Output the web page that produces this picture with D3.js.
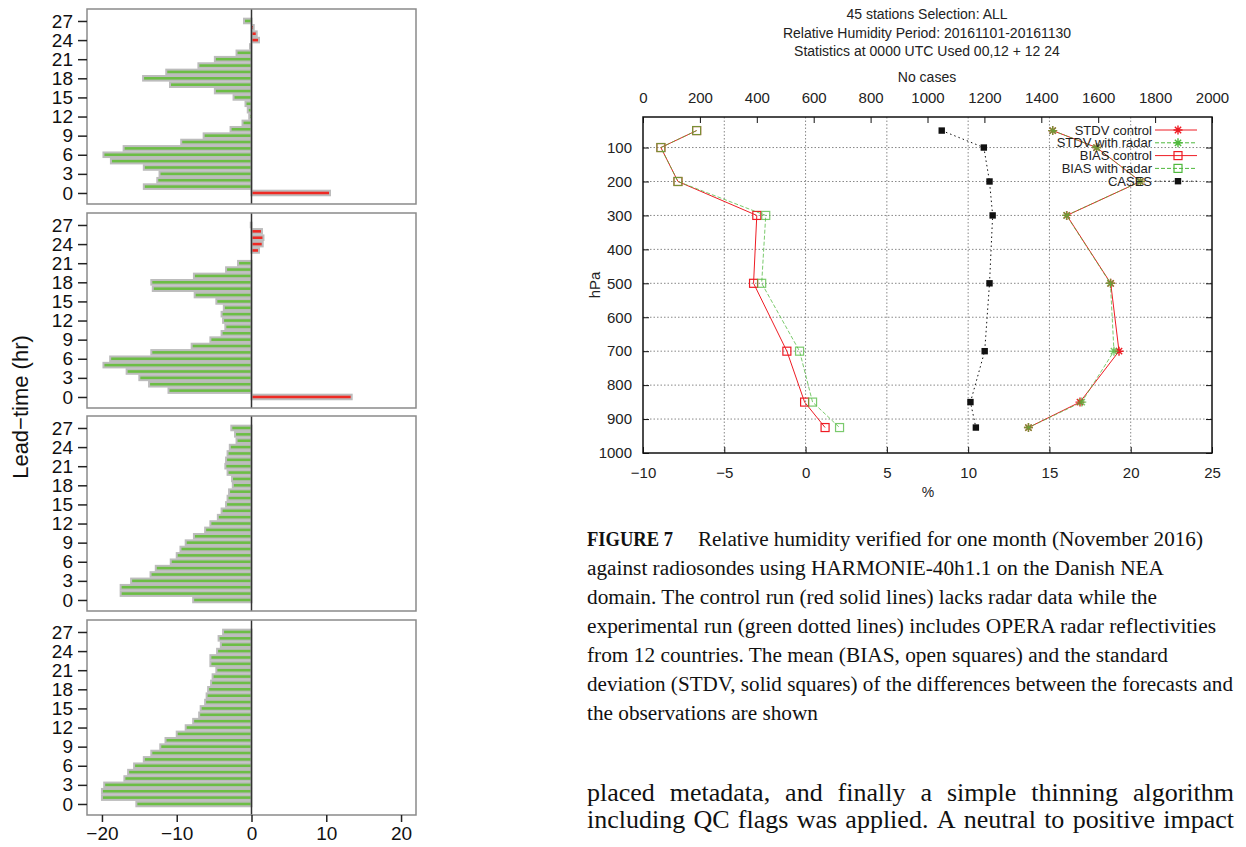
<!DOCTYPE html>
<html>
<head>
<meta charset="utf-8">
<script src="https://cdn.jsdelivr.net/npm/d3@7"></script>
<style>
  body { margin: 0; background: #fff; }
  svg { display: block; }
</style>
</head>
<body>
<svg id="chart" width="1246" height="847"></svg>
<script>
// ---- data: left bar panels (lead time 0..27) ----
const leadTimes = [0, 1, 2, 3, 4, 5, 6, 7, 8, 9, 10, 11, 12, 13, 14, 15, 16, 17, 18, 19, 20, 21, 22, 23, 24, 25, 26, 27];
const leadTicks = [0, 3, 6, 9, 12, 15, 18, 21, 24, 27];
const diffTicks = [-20, -10, 0, 10, 20];

const panel1 = [10.5, -14.4, -12.6, -12.3, -14.4, -18.8, -19.8, -17.1, -9.4, -6.4, -2.8, -1.2, -0.3, -0.5,
                -0.8, -2.4, -4.9, -10.9, -14.5, -11.4, -7.1, -4.9, -2.0, -0.2, 1.0, 0.7, 0.3, -1.0];
const panel2 = [13.4, -11.1, -13.7, -15.0, -16.7, -19.8, -18.9, -13.4, -8.0, -5.5, -4.0, -3.5, -3.8, -4.0,
                -3.7, -4.7, -7.6, -13.2, -13.4, -7.7, -3.4, -1.8, 0, 1.0, 1.5, 1.6, 1.4, -0.1];
const panel3 = [-7.8, -17.5, -17.5, -16.1, -13.5, -12.8, -10.8, -10.0, -9.5, -8.8, -7.7, -6.2, -5.5, -4.5,
                -4.0, -3.4, -3.2, -3.0, -2.5, -2.6, -3.2, -3.5, -3.4, -3.2, -2.9, -2.0, -2.2, -2.7];
const panel4 = [-15.4, -20.0, -20.0, -19.7, -17.0, -16.5, -15.7, -14.4, -13.4, -12.2, -11.5, -10.0, -8.8, -7.8,
                -7.0, -6.8, -6.2, -6.0, -5.8, -5.4, -5.2, -4.7, -5.5, -5.5, -4.6, -4.1, -4.4, -3.8];
const panels = [panel1, panel2, panel3, panel4];

// ---- data: right profile chart ----
const pressure = [50, 100, 200, 300, 500, 700, 850, 925];
const biasControl = [-6.7, -8.9, -7.85, -3.0, -3.2, -1.15, -0.06, 1.2];
const biasRadar = [-6.7, -8.9, -7.85, -2.45, -2.7, -0.37, 0.43, 2.09];
const stdvControl = [15.2, 17.9, 20.6, 16.07, 18.77, 19.28, 16.88, 13.71];
const stdvRadar = [15.2, 17.9, 20.6, 16.05, 18.75, 18.97, 16.99, 13.71];
const cases = [1050, 1198, 1218, 1229, 1218, 1201, 1151, 1170];
const pctTicks = [-10, -5, 0, 5, 10, 15, 20, 25];
const caseTicks = [0, 200, 400, 600, 800, 1000, 1200, 1400, 1600, 1800, 2000];
const hpaTicks = [100, 200, 300, 400, 500, 600, 700, 800, 900, 1000];
const titleLines = ["45 stations Selection: ALL",
                    "Relative Humidity Period: 20161101-20161130",
                    "Statistics at 0000 UTC Used 00,12 + 12 24"];

const captionHead = "FIGURE 7";
const captionLines = [
  "Relative humidity verified for one month (November 2016)",
  "against radiosondes using HARMONIE-40h1.1 on the Danish NEA",
  "domain. The control run (red solid lines) lacks radar data while the",
  "experimental run (green dotted lines) includes OPERA radar reflectivities",
  "from 12 countries. The mean (BIAS, open squares) and the standard",
  "deviation (STDV, solid squares) of the differences between the forecasts and",
  "the observations are shown"
];
const bodyLines = [
  "placed metadata, and finally a simple thinning algorithm",
  "including QC flags was applied. A neutral to positive impact"
];

const svg = d3.select("#chart");
svg.append("rect").attr("width", 1246).attr("height", 847).attr("fill", "#fff");

const sans = "Liberation Sans, Arial, Helvetica, sans-serif";
const serif = "Liberation Serif, Times New Roman, serif";

// ================= left: four bar panels =================
const panelTops = [9, 213, 416, 620];
const panelH = 195;
const x = d3.scaleLinear().domain([-22, 22]).range([87, 416]);

panels.forEach((vals, i) => {
  const top = panelTops[i];
  const y = d3.scaleLinear().domain([-1.73, 28.88]).range([top + panelH, top]);
  const g = svg.append("g");
  const bh = 0.72 * (y(0) - y(1));

  g.selectAll("rect.bar")
    .data(leadTimes)
    .join("rect")
    .attr("class", "bar")
    .attr("x", d => x(Math.min(0, vals[d])))
    .attr("width", d => Math.abs(x(vals[d]) - x(0)))
    .attr("y", d => y(d) - bh / 2)
    .attr("height", bh)
    .attr("fill", d => vals[d] > 0 ? "#ee2a24" : "#6cbd45")
    .attr("stroke", "#bcbcbc")
    .attr("stroke-width", 2);

  // zero line
  g.append("line")
    .attr("x1", x(0)).attr("x2", x(0))
    .attr("y1", top).attr("y2", top + panelH)
    .attr("stroke", "#333").attr("stroke-width", 1.5);

  // frame
  g.append("rect")
    .attr("x", 87).attr("y", top)
    .attr("width", 416 - 87).attr("height", panelH)
    .attr("fill", "none").attr("stroke", "#8a8a8a").attr("stroke-width", 1.5);

  // y axis
  const ya = g.append("g")
    .attr("transform", "translate(87,0)")
    .call(d3.axisLeft(y).tickValues(leadTicks).tickSize(9).tickPadding(5));
  ya.select(".domain").remove();
  ya.selectAll(".tick line").attr("stroke", "#222").attr("stroke-width", 1.5);
  ya.selectAll(".tick text").attr("font-family", sans).attr("font-size", 19).attr("fill", "#111");

  if (i === 3) {
    const xa = g.append("g")
      .attr("transform", `translate(0,${top + panelH})`)
      .call(d3.axisBottom(x).tickValues(diffTicks).tickSize(7).tickPadding(5)
        .tickFormat(d => d < 0 ? "\u2212" + Math.abs(d) : d));
    xa.select(".domain").remove();
    xa.selectAll(".tick line").attr("stroke", "#222").attr("stroke-width", 1.5);
    xa.selectAll(".tick text").attr("font-family", sans).attr("font-size", 19).attr("fill", "#111");
  }
});

svg.append("text")
  .attr("transform", "translate(28,407) rotate(-90)")
  .attr("text-anchor", "middle")
  .attr("font-family", sans)
  .attr("font-size", 22)
  .attr("fill", "#111")
  .text("Lead\u2212time (hr)");

// ================= right: profile chart =================
const px = d3.scaleLinear().domain([-10, 25]).range([643, 1212]);
const px2 = d3.scaleLinear().domain([0, 2000]).range([643, 1212]);
const py = d3.scaleLinear().domain([10, 1000]).range([117, 453]);
const rg = svg.append("g");

// grid
rg.selectAll("line.vgrid")
  .data(pctTicks.slice(1, -1))
  .join("line")
  .attr("x1", d => px(d)).attr("x2", d => px(d))
  .attr("y1", 117).attr("y2", 453)
  .attr("stroke", "#888").attr("stroke-width", 1).attr("stroke-dasharray", "1.5,2");
rg.selectAll("line.hgrid")
  .data(hpaTicks.slice(0, -1))
  .join("line")
  .attr("x1", 643).attr("x2", 1212)
  .attr("y1", d => py(d)).attr("y2", d => py(d))
  .attr("stroke", "#888").attr("stroke-width", 1).attr("stroke-dasharray", "1.5,2");

// axes (inward ticks)
const minusFmt = d => d < 0 ? "\u2212" + Math.abs(d) : String(d);
const plainFmt = d => String(d);
const ax = [
  rg.append("g").attr("transform", "translate(0,453)")
    .call(d3.axisBottom(px).tickValues(pctTicks).tickSize(-6).tickPadding(14).tickFormat(minusFmt)),
  rg.append("g").attr("transform", "translate(0,117)")
    .call(d3.axisTop(px2).tickValues(caseTicks).tickSize(-6).tickPadding(14).tickFormat(plainFmt)),
  rg.append("g").attr("transform", "translate(643,0)")
    .call(d3.axisLeft(py).tickValues(hpaTicks).tickSize(-6).tickPadding(11).tickFormat(plainFmt)),
  rg.append("g").attr("transform", "translate(1212,0)")
    .call(d3.axisRight(py).tickValues(hpaTicks).tickSize(-6).tickFormat(""))
];
ax.forEach(a => {
  a.select(".domain").remove();
  a.selectAll(".tick line").attr("stroke", "#111").attr("stroke-width", 1);
  a.selectAll(".tick text").attr("font-family", sans).attr("font-size", 15).attr("fill", "#222");
});

rg.append("rect")
  .attr("x", 643).attr("y", 117).attr("width", 1212 - 643).attr("height", 453 - 117)
  .attr("fill", "none").attr("stroke", "#111").attr("stroke-width", 1.5);

// titles
rg.selectAll("text.title")
  .data(titleLines)
  .join("text")
  .attr("x", 927).attr("y", (d, i) => 19 + i * 18.5)
  .attr("text-anchor", "middle")
  .attr("font-family", sans).attr("font-size", 14).attr("fill", "#222")
  .text(d => d);
rg.append("text").attr("x", 927).attr("y", 82).attr("text-anchor", "middle")
  .attr("font-family", sans).attr("font-size", 14).attr("fill", "#222").text("No cases");
rg.append("text").attr("x", 928).attr("y", 497).attr("text-anchor", "middle")
  .attr("font-family", sans).attr("font-size", 14).attr("fill", "#222").text("%");
rg.append("text").attr("transform", "translate(600,285) rotate(-90)").attr("text-anchor", "middle")
  .attr("font-family", sans).attr("font-size", 15).attr("fill", "#222").text("hPa");

const red = "#ee1c24";
const green = "#4fb83c";

const series = [
  { name: "STDV control", vals: stdvControl, scale: px, color: red, dash: null, marker: "star", op: 1 },
  { name: "STDV with radar", vals: stdvRadar, scale: px, color: green, dash: "4,2", marker: "star", op: 0.75 },
  { name: "BIAS control", vals: biasControl, scale: px, color: red, dash: null, marker: "open", op: 1 },
  { name: "BIAS with radar", vals: biasRadar, scale: px, color: green, dash: "4,2", marker: "open", op: 0.75 },
  { name: "CASES", vals: cases, scale: px2, color: "#111", dash: "1.5,3", marker: "filled", op: 1 }
];

function drawMarker(g, type, cx, cy, color, op) {
  if (type === "open") {
    g.append("rect").attr("x", cx - 4).attr("y", cy - 4).attr("width", 8).attr("height", 8)
      .attr("fill", "none").attr("stroke", color).attr("stroke-width", 1.2).attr("opacity", op);
  } else if (type === "filled") {
    g.append("rect").attr("x", cx - 3.2).attr("y", cy - 3.2).attr("width", 6.4).attr("height", 6.4)
      .attr("fill", color);
  } else {
    const r = 4.5;
    const d = `M${cx - r},${cy}H${cx + r}M${cx},${cy - r}V${cy + r}` +
      `M${cx - r * 0.7},${cy - r * 0.7}L${cx + r * 0.7},${cy + r * 0.7}` +
      `M${cx - r * 0.7},${cy + r * 0.7}L${cx + r * 0.7},${cy - r * 0.7}`;
    g.append("path").attr("d", d).attr("stroke", color).attr("stroke-width", 1.4)
      .attr("fill", "none").attr("opacity", op);
  }
}

const drawOrder = [4, 2, 0, 3, 1];
drawOrder.forEach(k => {
  const s = series[k];
  const line = d3.line().x((d, i) => s.scale(d)).y((d, i) => py(pressure[i]));
  const sg = rg.append("g");
  sg.append("path")
    .attr("d", line(s.vals))
    .attr("fill", "none")
    .attr("stroke", s.color)
    .attr("stroke-width", 1)
    .attr("stroke-dasharray", s.dash)
    .attr("opacity", s.op);
  s.vals.forEach((v, i) => drawMarker(sg, s.marker, s.scale(v), py(pressure[i]), s.color, s.op));
});

// legend
const lg = rg.append("g");
series.forEach((s, i) => {
  const yy = 130 + i * 12.8;
  lg.append("text").attr("x", 1152).attr("y", yy + 4.5).attr("text-anchor", "end")
    .attr("font-family", sans).attr("font-size", 13).attr("fill", "#222").text(s.name);
  lg.append("line").attr("x1", 1155).attr("x2", 1197).attr("y1", yy).attr("y2", yy)
    .attr("stroke", s.color).attr("stroke-width", 1).attr("stroke-dasharray", s.dash);
  drawMarker(lg, s.marker, 1178, yy, s.color, 1);
});

// ================= caption and body text =================
const cg = svg.append("g").attr("font-family", serif).attr("fill", "#111");
cg.append("text").attr("x", 587).attr("y", 546).attr("font-size", 20).attr("font-weight", "bold")
  .attr("textLength", 86).attr("lengthAdjust", "spacingAndGlyphs").text(captionHead);
const capX0 = [698, 587, 587, 587, 587, 587, 587];
const capX1 = [1203, 1164, 1157, 1216, 1168, 1233, 818];
captionLines.forEach((t, i) => {
  cg.append("text")
    .attr("x", capX0[i]).attr("y", 546 + i * 29)
    .attr("font-size", 20)
    .attr("textLength", capX1[i] - capX0[i])
    .attr("lengthAdjust", "spacingAndGlyphs")
    .text(t);
});

// justified body text, word by word
bodyLines.forEach((t, i) => {
  const yy = 801 + i * 27;
  const words = t.split(" ");
  const nodes = words.map(w => cg.append("text").attr("y", yy).attr("font-size", 26).text(w));
  const widths = nodes.map(n => n.node().getComputedTextLength());
  const total = d3.sum(widths);
  const span = 1234 - 587;
  let sx = 1;
  let gap = (span - total) / (words.length - 1);
  if (gap < 4) { sx = (span - 4 * (words.length - 1)) / total; gap = 4; }
  let cx = 587;
  nodes.forEach((n, j) => {
    n.attr("x", cx);
    if (sx !== 1) n.attr("textLength", widths[j] * sx).attr("lengthAdjust", "spacingAndGlyphs");
    cx += widths[j] * sx + gap;
  });
});
</script>
</body>
</html>
